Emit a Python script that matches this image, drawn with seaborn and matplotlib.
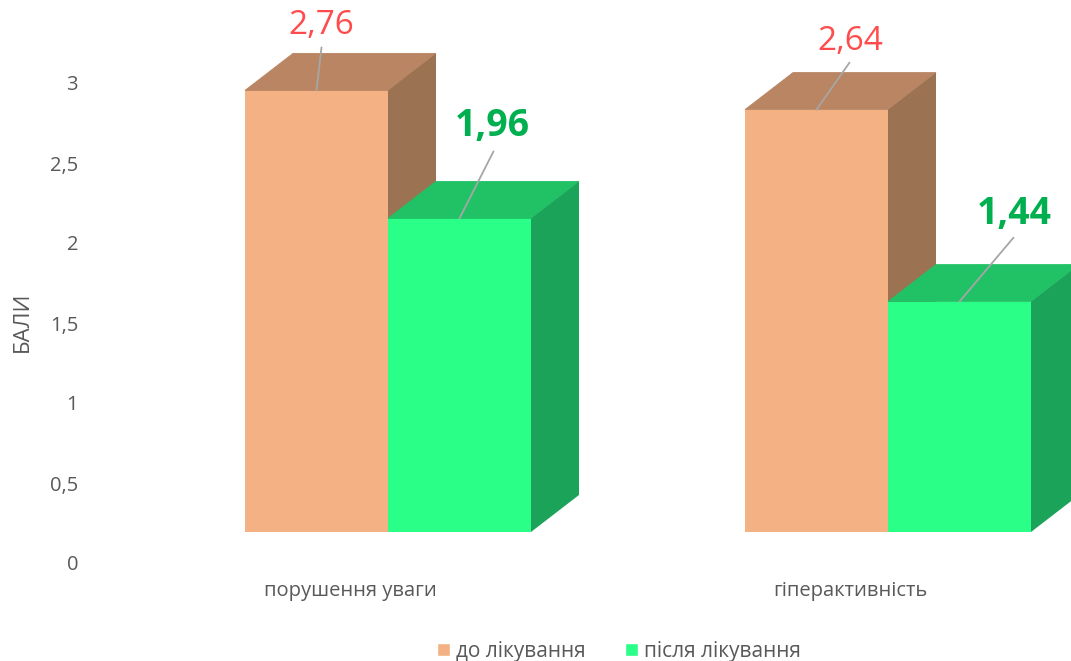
import matplotlib
matplotlib.use('Agg')
import matplotlib.pyplot as plt
import matplotlib.transforms as mtransforms
from matplotlib.patches import Polygon, Patch
import seaborn as sns
import pandas as pd

# data
categories = ['порушення уваги', 'гіперактивність']
series = ['до лікування', 'після лікування']
before = [2.76, 2.64]
after = [1.96, 1.44]
value_labels = [['2,76', '2,64'], ['1,96', '1,44']]
yticks = [0, 0.5, 1, 1.5, 2, 2.5, 3]
ytick_labels = ['0', '0,5', '1', '1,5', '2', '2,5', '3']

df = pd.DataFrame({
    'category': categories * 2,
    'period': [series[0]] * 2 + [series[1]] * 2,
    'value': before + after,
})

# colours for front / top / side faces
front = ['#F4B183', '#2AFF88']
top = ['#B98563', '#21C266']
side = ['#9B7252', '#1CA35A']
label_colors = ['#FF4B4B', '#00B050']
gray = '#595959'

sns.set_theme(style='white')
plt.rcParams['font.family'] = ['Open Sans', 'DejaVu Sans']

fig = plt.figure(figsize=(10.71, 6.61), dpi=100)
ax = fig.add_axes([90 / 1071, 98 / 661, 981 / 1071, 560 / 661])
sns.barplot(data=df, x='category', y='value', hue='period', hue_order=series,
            palette=front, width=0.572, saturation=1, legend=False, ax=ax)
ax.set_xlim(-0.596, 1.366)
ax.set_ylim(0, 3.5)

# fake 3d: floor offset and depth (in data units)
floor = 31 / 160
dx, dy = 48 / 500, 37 / 160

# text offsets (pixels) from front-top centre: label baseline and leader-line end
offsets = [[(5, 56, 5, 43), (34, 60, 33, 47)],
           [(33, 82, 34, 67), (55, 78, 54, 64)]]

for i, cont in enumerate(ax.containers):
    for j, bar in enumerate(cont):
        x0, w, h = bar.get_x(), bar.get_width(), bar.get_height()
        bar.set_y(floor)
        bar.set_linewidth(0)
        bar.set_zorder(2 + i)
        yt = floor + h
        ax.add_patch(Polygon([(x0, yt), (x0 + w, yt), (x0 + w + dx, yt + dy), (x0 + dx, yt + dy)],
                             closed=True, fc=top[i], ec=top[i], lw=0.6, zorder=2 + i))
        ax.add_patch(Polygon([(x0 + w, floor), (x0 + w, yt), (x0 + w + dx, yt + dy), (x0 + w + dx, floor + dy)],
                             closed=True, fc=side[i], lw=0, zorder=2 + i))
        tx, ty, lx, ly = offsets[i][j]
        cx = x0 + w / 2
        ax.annotate('', xy=(cx, yt), xytext=(lx, ly), textcoords='offset pixels',
                    arrowprops=dict(arrowstyle='-', color='#A6A6A6', lw=1.3, shrinkA=0, shrinkB=0),
                    zorder=5, annotation_clip=False)
        ax.annotate(value_labels[i][j], xy=(cx, yt), xytext=(tx, ty), textcoords='offset pixels',
                    ha='center', va='baseline', color=label_colors[i],
                    fontsize=24 if i == 0 else 27, fontweight='normal' if i == 0 else 'bold',
                    zorder=6, annotation_clip=False)

ax.set_yticks(yticks)
ax.set_yticklabels(ytick_labels)
ax.tick_params(axis='y', length=0, pad=8.6, labelsize=14.5, labelcolor=gray)
ax.tick_params(axis='x', length=0, pad=13, labelsize=14.5, labelcolor=gray)
shift = mtransforms.ScaledTranslation(-38 / 100, 0, fig.dpi_scale_trans)
for lab in ax.get_xticklabels():
    lab.set_transform(lab.get_transform() + shift)
ax.set_xlabel('')
ax.set_ylabel('БАЛИ', fontsize=16, color=gray)
ax.yaxis.set_label_coords(-0.058, 0.43)
for s in ax.spines.values():
    s.set_visible(False)
ax.grid(False)

handles = [Patch(facecolor=front[k], label=series[k]) for k in range(2)]
fig.legend(handles=handles, loc='center', bbox_to_anchor=(619 / 1071, 1 - 651 / 661), ncol=2,
           frameon=False, handlelength=0.6, handleheight=0.6, handletextpad=0.3,
           columnspacing=1.9, prop={'size': 15}, labelcolor=gray)

fig.savefig('out.png', dpi=100)
